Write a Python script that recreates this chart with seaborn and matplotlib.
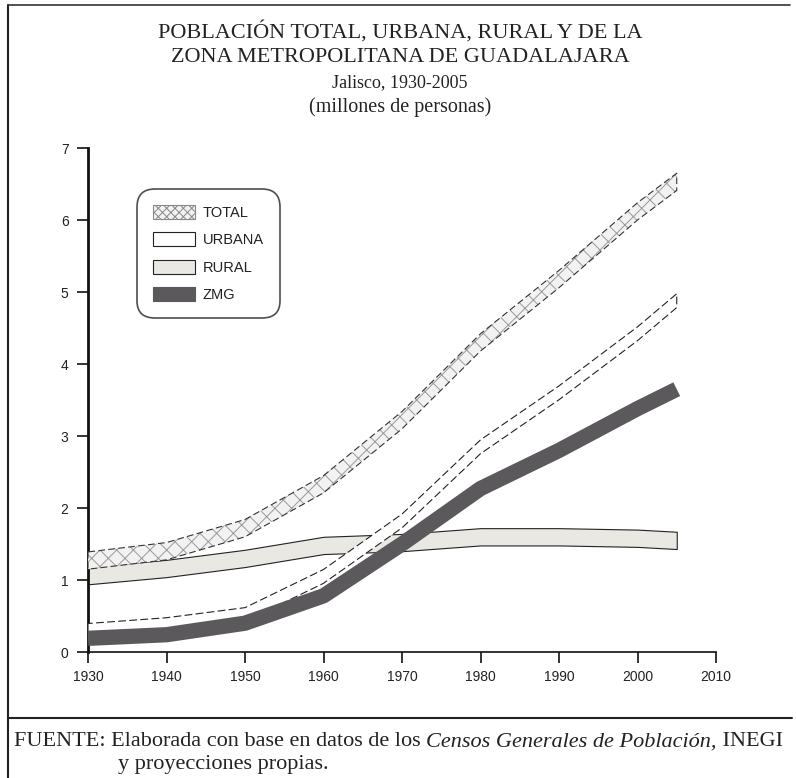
import numpy as np
import pandas as pd
import matplotlib
matplotlib.use("Agg")
import matplotlib.pyplot as plt
import seaborn as sns
from matplotlib.patches import Patch
from matplotlib.lines import Line2D

# ---- data (millones de personas) ----
years = [1930, 1940, 1950, 1960, 1970, 1980, 1990, 2000, 2005]
total = [1.27, 1.40, 1.72, 2.33, 3.22, 4.30, 5.18, 6.12, 6.53]
urbana = [0.30, 0.38, 0.52, 1.05, 1.82, 2.85, 3.60, 4.42, 4.88]
rural = [1.06, 1.16, 1.30, 1.48, 1.52, 1.60, 1.60, 1.58, 1.55]
zmg = [0.19, 0.24, 0.40, 0.78, 1.50, 2.27, 2.80, 3.38, 3.65]

x_ticks = [1930, 1940, 1950, 1960, 1970, 1980, 1990, 2000, 2010]
y_ticks = [0, 1, 2, 3, 4, 5, 6, 7]
series_names = ["TOTAL", "URBANA", "RURAL", "ZMG"]

df = pd.DataFrame({"year": years, "TOTAL": total, "URBANA": urbana,
                   "RURAL": rural, "ZMG": zmg})

sns.set_style("ticks")
plt.rcParams["font.family"] = ["Liberation Sans", "DejaVu Sans"]
plt.rcParams["hatch.linewidth"] = 0.7

W, H = 796, 778
fig = plt.figure(figsize=(W / 100, H / 100), dpi=100)
fig.patch.set_facecolor("white")

ax = fig.add_axes([88 / W, 1 - 652 / H, (716 - 88) / W, (652 - 148) / H])

hw = 0.12  # half band width (style)
yr = np.array(years, dtype=float)

# RURAL band
r = df["RURAL"].to_numpy()
ax.fill_between(yr, r - hw, r + hw, facecolor="#e9e8e2", edgecolor="#222222",
                linewidth=0.8, zorder=2)

# TOTAL band (hatched)
t = df["TOTAL"].to_numpy()
ax.fill_between(yr, t - hw, t + hw, facecolor="#f2f2f2", edgecolor="#9a9a9a",
                hatch="xx", linewidth=0, zorder=3)
ax.fill_between(yr, t - hw, t + hw, facecolor="none", edgecolor="#333333",
                linewidth=0.8, linestyle=(0, (6, 3)), zorder=3.1)

# URBANA band (white)
u = df["URBANA"].to_numpy()
ax.fill_between(yr, u - hw * 0.8, u + hw * 0.8, facecolor="white",
                edgecolor="#222222", linewidth=0.8, linestyle=(0, (7, 3)), zorder=4)

# ZMG thick line
sns.lineplot(data=df, x="year", y="ZMG", ax=ax, color="#5b595b", linewidth=11,
             solid_capstyle="butt", solid_joinstyle="round", zorder=5)

ax.set_xlim(1930, 2010)
ax.set_ylim(0, 7)
ax.set_xticks(x_ticks)
ax.set_yticks(y_ticks)
ax.set_xlabel("")
ax.set_ylabel("")
ax.tick_params(axis="both", labelsize=10, length=8, width=1.2, color="#111111",
               labelcolor="#222222")
ax.tick_params(axis="y", pad=6)
ax.tick_params(axis="x", pad=5)
for s in ["top", "right"]:
    ax.spines[s].set_visible(False)
ax.spines["left"].set_linewidth(2)
ax.spines["bottom"].set_linewidth(1.2)
ax.spines["left"].set_color("#111111")
ax.spines["bottom"].set_color("#111111")

# legend
handles = [
    Patch(facecolor="#f2f2f2", edgecolor="#888888", hatch="xxxx", linewidth=0.8),
    Patch(facecolor="white", edgecolor="#222222", linewidth=0.8),
    Patch(facecolor="#e9e8e2", edgecolor="#222222", linewidth=0.8),
    Patch(facecolor="#5b595b", edgecolor="#5b595b", linewidth=0.8),
]
leg = ax.legend(handles, series_names, loc="upper left",
                bbox_to_anchor=((140 - 88) / 628, (652 - 192) / 504),
                frameon=True, fancybox=True, shadow=False, fontsize=10.5,
                handlelength=2.9, handleheight=1.1, labelspacing=0.85,
                borderpad=0.9, handletextpad=0.5, borderaxespad=0)
frame = leg.get_frame()
frame.set_edgecolor("#222222")
frame.set_linewidth(1.2)
frame.set_boxstyle("round,pad=0.2,rounding_size=1.2")
for txt in leg.get_texts():
    txt.set_color("#222222")

# titles
serif = ["Liberation Serif", "DejaVu Serif"]
fig.text(400 / W, 1 - 32 / H, "POBLACIÓN TOTAL, URBANA, RURAL Y DE LA",
         ha="center", va="center", fontsize=16, family=serif, color="#222222")
fig.text(400 / W, 1 - 58 / H, "ZONA METROPOLITANA DE GUADALAJARA",
         ha="center", va="center", fontsize=16, family=serif, color="#222222")
fig.text(400 / W, 1 - 83 / H, "Jalisco, 1930-2005",
         ha="center", va="center", fontsize=13, family=serif, color="#222222")
fig.text(400 / W, 1 - 107 / H, "(millones de personas)",
         ha="center", va="center", fontsize=14.5, family=serif, color="#222222")

# frame lines
fig.add_artist(Line2D([8 / W, 8 / W], [0, 1 - 5 / H], transform=fig.transFigure,
                      color="#222222", linewidth=1.5))
fig.add_artist(Line2D([8 / W, 790 / W], [1 - 5 / H, 1 - 5 / H],
                      transform=fig.transFigure, color="#333333", linewidth=1.2))
fig.add_artist(Line2D([8 / W, 792 / W], [1 - 718 / H, 1 - 718 / H],
                      transform=fig.transFigure, color="#222222", linewidth=1.5))

# source
fs = 16
t1 = fig.text(14 / W, 1 - 742 / H, "FUENTE: Elaborada con base en datos de los ",
              ha="left", va="center", fontsize=fs, family=serif, color="#222222")
fig.canvas.draw()
r1 = fig.canvas.get_renderer()
bb = t1.get_window_extent(r1)
t2 = fig.text(bb.x1 / W, 1 - 742 / H, "Censos Generales de Población,",
              ha="left", va="center", fontsize=fs, family=serif, style="italic",
              color="#222222")
bb2 = t2.get_window_extent(r1)
fig.text(bb2.x1 / W, 1 - 742 / H, " INEGI",
         ha="left", va="center", fontsize=fs, family=serif, color="#222222")
fig.text(118 / W, 1 - 765 / H, "y proyecciones propias.",
         ha="left", va="center", fontsize=fs, family=serif, color="#222222")

fig.savefig("out.png", dpi=100)
